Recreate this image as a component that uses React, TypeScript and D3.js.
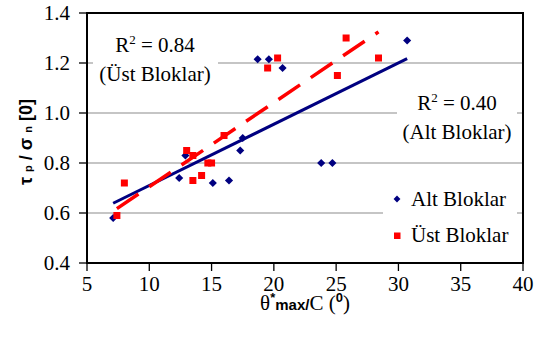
import React from "react";
import * as d3 from "d3";

// Alt Bloklar (blue diamonds)
const altX = [7.1, 12.4, 12.9, 15.1, 16.4, 17.3, 17.5, 18.7, 19.6, 20.7, 23.8, 24.7, 30.7];
const altY = [0.58, 0.74, 0.83, 0.72, 0.73, 0.85, 0.9, 1.215, 1.215, 1.18, 0.8, 0.8, 1.29];

// Üst Bloklar (red squares)
const ustX = [7.4, 8.0, 13.0, 13.5, 13.5, 14.2, 14.7, 15.0, 16.0, 19.5, 20.3, 25.8, 25.1, 28.4];
const ustY = [0.59, 0.72, 0.85, 0.83, 0.73, 0.75, 0.8, 0.8, 0.91, 1.18, 1.22, 1.3, 1.15, 1.22];

const xTicks = [5, 10, 15, 20, 25, 30, 35, 40];
const yTicks = [0.4, 0.6, 0.8, 1.0, 1.2, 1.4];

const BLUE = "#000080";
const RED = "#ff0000";
const SERIF = "Liberation Serif";
const SANS = "Liberation Sans";

const left = 87, right = 523, top = 13, bottom = 263;
const x = d3.scaleLinear().domain([5, 40]).range([left, right]);
const y = d3.scaleLinear().domain([0.4, 1.4]).range([bottom, top]);

// least squares line
function fit(xs: number[], ys: number[]) {
    const mx = d3.mean(xs)!;
    const my = d3.mean(ys)!;
    let sxy = 0;
    let sxx = 0;
    xs.forEach((v, i) => {
        sxy += (v - mx) * (ys[i] - my);
        sxx += (v - mx) * (v - mx);
    });
    const slope = sxy / sxx;
    return { slope, intercept: my - slope * mx };
}

function trendPath(xs: number[], ys: number[]) {
    const f = fit(xs, ys);
    const line = d3.line<number>().x((d) => x(d)).y((d) => y(f.intercept + f.slope * d));
    return line(d3.extent(xs) as [number, number]) || "";
}

const diamond = d3.symbol().type(d3.symbolDiamond2).size(42)() || "";
const smallDiamond = d3.symbol().type(d3.symbolDiamond2).size(30)() || "";

const App: React.FC = () => {
    document.body.style.margin = "0";
    return (
        <svg width={535} height={356} style={{ display: "block", background: "#fff" }}>
            {/* gridlines */}
            {yTicks.slice(1, -1).map((t) => (
                <line key={t} x1={left} x2={right} y1={y(t)} y2={y(t)} stroke="#8c8c8c" strokeWidth={1.2} />
            ))}
            {/* white boxes behind labels */}
            <rect x={93} y={28} width={125} height={62} fill="#fff" />
            <rect x={397} y={86} width={120} height={62} fill="#fff" />
            <rect x={383} y={180} width={134} height={74} fill="#fff" />
            {/* frame */}
            <rect x={left} y={top} width={right - left} height={bottom - top} fill="none" stroke="#000" strokeWidth={2} />
            {/* x ticks */}
            {xTicks.map((t) => (
                <g key={t} transform={`translate(${x(t)},${bottom})`}>
                    <line y2={8} stroke="#000" strokeWidth={1.3} />
                    <text y={28} textAnchor="middle" fontFamily={SERIF} fontSize={21}>{t}</text>
                </g>
            ))}
            {/* y ticks */}
            {yTicks.map((t) => (
                <g key={t} transform={`translate(${left},${y(t)})`}>
                    <line x2={-8} stroke="#000" strokeWidth={1.3} />
                    <text x={-17} dy="0.35em" textAnchor="end" fontFamily={SERIF} fontSize={21}>{d3.format(".1f")(t)}</text>
                </g>
            ))}
            {/* points */}
            {altX.map((v, i) => (
                <path key={"a" + i} d={diamond} transform={`translate(${x(v)},${y(altY[i])})`} fill={BLUE} />
            ))}
            {ustX.map((v, i) => (
                <rect key={"u" + i} x={x(v) - 3.5} y={y(ustY[i]) - 3.5} width={7} height={7} fill={RED} />
            ))}
            {/* trend lines */}
            <path d={trendPath(altX, altY)} fill="none" stroke={BLUE} strokeWidth={3} />
            <path d={trendPath(ustX, ustY)} fill="none" stroke={RED} strokeWidth={3.5} strokeDasharray="26,13" />
            {/* R² labels */}
            <text x={155} y={52} textAnchor="middle" fontFamily={SERIF} fontSize={21}>
                R<tspan dy={-8} fontSize={13}>2</tspan>
                <tspan dy={8}> = 0.84</tspan>
            </text>
            <text x={155} y={81} textAnchor="middle" fontFamily={SERIF} fontSize={21}>(Üst Bloklar)</text>
            <text x={457} y={110} textAnchor="middle" fontFamily={SERIF} fontSize={21}>
                R<tspan dy={-8} fontSize={13}>2</tspan>
                <tspan dy={8}> = 0.40</tspan>
            </text>
            <text x={457} y={139} textAnchor="middle" fontFamily={SERIF} fontSize={21}>(Alt Bloklar)</text>
            {/* legend */}
            <path d={smallDiamond} transform="translate(397,199)" fill={BLUE} />
            <rect x={394} y={232.5} width={6.5} height={6.5} fill={RED} />
            <text x={411} y={206} fontFamily={SERIF} fontSize={21}>Alt Bloklar</text>
            <text x={411} y={242} fontFamily={SERIF} fontSize={21}>Üst Bloklar</text>
            {/* x title */}
            <text x={305} y={310} textAnchor="middle" fontFamily={SERIF} fontSize={21}>
                θ
                <tspan dy={-8} fontSize={13} fontFamily={SANS} fontWeight="bold">*</tspan>
                <tspan dy={8} fontSize={15} fontFamily={SANS} fontWeight="bold">max/</tspan>
                <tspan>C (</tspan>
                <tspan dy={-8} fontSize={13} fontFamily={SANS} fontWeight="bold">0</tspan>
                <tspan dy={8}>)</tspan>
            </text>
            {/* y title */}
            <text transform="translate(32,142) rotate(-90)" textAnchor="middle" fontFamily={SANS} fontWeight="bold" fontSize={18}>
                τ <tspan fontSize={11}>p</tspan> / σ <tspan fontSize={11}>n</tspan> [0]
            </text>
        </svg>
    );
};

export default App;
